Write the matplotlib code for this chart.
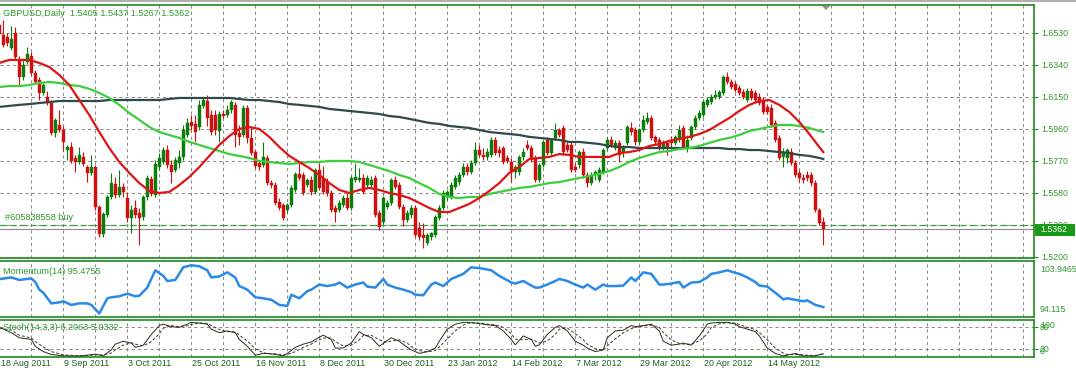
import matplotlib
matplotlib.use("Agg")
import matplotlib.pyplot as plt
from matplotlib.patches import Polygon, Rectangle
import numpy as np

W, H, DPI = 1076, 371, 100

# ---------------- data ----------------
date_labels = ["18 Aug 2011", "9 Sep 2011", "3 Oct 2011", "25 Oct 2011", "16 Nov 2011",
               "8 Dec 2011", "30 Dec 2011", "23 Jan 2012", "14 Feb 2012", "7 Mar 2012",
               "29 Mar 2012", "20 Apr 2012", "14 May 2012"]
price_ticks = [1.6530, 1.6340, 1.6150, 1.5960, 1.5770, 1.5580, 1.5390, 1.5200]

opens = [1.6576, 1.6516, 1.6504, 1.6439, 1.6528, 1.6368, 1.6267, 1.6356, 1.6391, 1.6291,
         1.6249, 1.6172, 1.6148, 1.6112, 1.5934, 1.5982, 1.5952, 1.5833, 1.5851, 1.5786,
         1.5762, 1.5792, 1.5732, 1.5697, 1.5732, 1.5495, 1.5334, 1.5447, 1.5554, 1.5631,
         1.5566, 1.5614, 1.5548, 1.5429, 1.5489, 1.5459, 1.5435, 1.5554, 1.5661, 1.5566,
         1.5732, 1.5762, 1.5833, 1.5744, 1.5714, 1.5756, 1.5792, 1.5922, 1.6000, 1.5988,
         1.5970, 1.6095, 1.6124, 1.6041, 1.6041, 1.5946, 1.6047, 1.6041, 1.6071, 1.6101,
         1.5934, 1.5922, 1.6083, 1.5905, 1.5821, 1.5756, 1.5744, 1.5786, 1.5637, 1.5625,
         1.5525, 1.5507, 1.5477, 1.5507, 1.5596, 1.5691, 1.5685, 1.5625, 1.5655, 1.5584,
         1.5714, 1.5667, 1.5643, 1.5578, 1.5489, 1.5477, 1.5507, 1.5548, 1.5489, 1.5655,
         1.5655, 1.5667, 1.5625, 1.5625, 1.5667, 1.5459, 1.5406, 1.5495, 1.5519, 1.5655,
         1.5625, 1.5495, 1.5418, 1.5447, 1.5489, 1.5370, 1.5329, 1.5281, 1.5317, 1.5329,
         1.5429, 1.5489, 1.5554, 1.5554, 1.5614, 1.5643, 1.5685, 1.5732, 1.5703, 1.5756,
         1.5833, 1.5804, 1.5792, 1.5804, 1.5893, 1.5833, 1.5845, 1.5786, 1.5762, 1.5703,
         1.5703, 1.5792, 1.5863, 1.5845, 1.5786, 1.5655, 1.5744, 1.5893, 1.5815, 1.5905,
         1.5952, 1.5964, 1.5863, 1.5863, 1.5732, 1.5744, 1.5821, 1.5685, 1.5637, 1.5685,
         1.5655, 1.5703, 1.5845, 1.5893, 1.5845, 1.5875, 1.5815, 1.5875, 1.5964, 1.5952,
         1.5881, 1.5952, 1.6000, 1.6023, 1.5911, 1.5893, 1.5851, 1.5875, 1.5893, 1.5875,
         1.5893, 1.5964, 1.5851, 1.5905, 1.5970, 1.6023, 1.6041, 1.6101, 1.6118, 1.6148,
         1.6148, 1.6172, 1.6267, 1.6237, 1.6225, 1.6201, 1.6178, 1.6130, 1.6184, 1.6172,
         1.6148, 1.6130, 1.6089, 1.6083, 1.5994, 1.5905, 1.5792, 1.5786, 1.5821, 1.5756,
         1.5697, 1.5667, 1.5685, 1.5685, 1.5637, 1.5477, 1.5405]
highs = [1.6653, 1.6605, 1.6528, 1.6570, 1.6564, 1.6391, 1.6368, 1.6445, 1.6415, 1.6308,
         1.6267, 1.6231, 1.6184, 1.6130, 1.6023, 1.6071, 1.5976, 1.5863, 1.5881, 1.5804,
         1.5851, 1.5821, 1.5744, 1.5804, 1.5744, 1.5507, 1.5465, 1.5566, 1.5697, 1.5673,
         1.5714, 1.5637, 1.5584, 1.5507, 1.5536, 1.5489, 1.5566, 1.5685, 1.5679, 1.5774,
         1.5815, 1.5851, 1.5863, 1.5774, 1.5792, 1.5833, 1.5982, 1.6023, 1.6041, 1.6041,
         1.6130, 1.6148, 1.6160, 1.6071, 1.6071, 1.6065, 1.6071, 1.6101, 1.6130, 1.6118,
         1.5982, 1.6101, 1.6101, 1.5970, 1.5833, 1.5774, 1.5881, 1.5804, 1.5655, 1.5643,
         1.5548, 1.5519, 1.5519, 1.5625, 1.5703, 1.5762, 1.5703, 1.5667, 1.5679, 1.5726,
         1.5756, 1.5738, 1.5667, 1.5596, 1.5507, 1.5536, 1.5566, 1.5578, 1.5679, 1.5756,
         1.5726, 1.5691, 1.5685, 1.5679, 1.5685, 1.5477, 1.5560, 1.5536, 1.5667, 1.5679,
         1.5643, 1.5513, 1.5477, 1.5507, 1.5507, 1.5406, 1.5400, 1.5340, 1.5346, 1.5447,
         1.5507, 1.5596, 1.5596, 1.5643, 1.5685, 1.5703, 1.5756, 1.5756, 1.5774, 1.5881,
         1.5863, 1.5845, 1.5845, 1.5911, 1.5911, 1.5857, 1.5857, 1.5804, 1.5786, 1.5744,
         1.5804, 1.5845, 1.5893, 1.5863, 1.5804, 1.5756, 1.5893, 1.5911, 1.5905, 1.5994,
         1.5964, 1.5982, 1.5881, 1.5881, 1.5756, 1.5833, 1.5845, 1.5703, 1.5703, 1.5714,
         1.5732, 1.5845, 1.5911, 1.5916, 1.5893, 1.5893, 1.5863, 1.5982, 1.6000, 1.5970,
         1.5964, 1.6041, 1.6059, 1.6041, 1.5922, 1.5911, 1.5893, 1.5893, 1.5916, 1.5922,
         1.5982, 1.5982, 1.5922, 1.5982, 1.6041, 1.6071, 1.6130, 1.6148, 1.6166, 1.6190,
         1.6190, 1.6279, 1.6296, 1.6255, 1.6243, 1.6219, 1.6196, 1.6201, 1.6201, 1.6190,
         1.6172, 1.6148, 1.6106, 1.6106, 1.6012, 1.5922, 1.5845, 1.5845, 1.5845, 1.5774,
         1.5714, 1.5691, 1.5708, 1.5703, 1.5655, 1.5489, 1.5437]
lows = [1.6498, 1.6445, 1.6451, 1.6427, 1.6368, 1.6219, 1.6249, 1.6344, 1.6279, 1.6225,
        1.6130, 1.6160, 1.6101, 1.5922, 1.5911, 1.5940, 1.5827, 1.5774, 1.5756, 1.5703,
        1.5750, 1.5738, 1.5643, 1.5685, 1.5477, 1.5317, 1.5317, 1.5435, 1.5542, 1.5548,
        1.5554, 1.5554, 1.5406, 1.5340, 1.5429, 1.5269, 1.5418, 1.5536, 1.5560, 1.5554,
        1.5714, 1.5750, 1.5726, 1.5637, 1.5703, 1.5726, 1.5774, 1.5911, 1.5952, 1.5881,
        1.5952, 1.6083, 1.5976, 1.5922, 1.5922, 1.5881, 1.6023, 1.6029, 1.6053, 1.5851,
        1.5863, 1.5911, 1.5875, 1.5804, 1.5726, 1.5714, 1.5732, 1.5625, 1.5608, 1.5507,
        1.5477, 1.5418, 1.5459, 1.5495, 1.5584, 1.5655, 1.5566, 1.5614, 1.5566, 1.5572,
        1.5596, 1.5572, 1.5560, 1.5465, 1.5406, 1.5465, 1.5495, 1.5477, 1.5477, 1.5643,
        1.5643, 1.5572, 1.5608, 1.5608, 1.5435, 1.5358, 1.5394, 1.5483, 1.5507, 1.5602,
        1.5483, 1.5382, 1.5406, 1.5429, 1.5317, 1.5299, 1.5251, 1.5269, 1.5299, 1.5317,
        1.5418, 1.5477, 1.5536, 1.5542, 1.5602, 1.5625, 1.5673, 1.5685, 1.5691, 1.5744,
        1.5792, 1.5774, 1.5774, 1.5792, 1.5804, 1.5792, 1.5750, 1.5756, 1.5643, 1.5667,
        1.5685, 1.5774, 1.5833, 1.5762, 1.5643, 1.5643, 1.5732, 1.5804, 1.5804, 1.5893,
        1.5911, 1.5804, 1.5821, 1.5703, 1.5703, 1.5726, 1.5667, 1.5614, 1.5625, 1.5655,
        1.5643, 1.5691, 1.5833, 1.5851, 1.5833, 1.5762, 1.5792, 1.5863, 1.5922, 1.5863,
        1.5869, 1.5940, 1.5988, 1.5893, 1.5869, 1.5833, 1.5833, 1.5804, 1.5845, 1.5863,
        1.5881, 1.5845, 1.5821, 1.5893, 1.5958, 1.6012, 1.6029, 1.6089, 1.6106, 1.6136,
        1.6136, 1.6160, 1.6225, 1.6196, 1.6178, 1.6160, 1.6136, 1.6118, 1.6130, 1.6118,
        1.6101, 1.6047, 1.6047, 1.5970, 1.5881, 1.5774, 1.5732, 1.5756, 1.5744, 1.5673,
        1.5643, 1.5637, 1.5649, 1.5619, 1.5465, 1.5388, 1.5267]
closes = [1.6522, 1.6457, 1.6469, 1.6492, 1.6386, 1.6267, 1.6338, 1.6403, 1.6291, 1.6237,
          1.6172, 1.6219, 1.6112, 1.5934, 1.6012, 1.5952, 1.5881, 1.5851, 1.5768, 1.5762,
          1.5804, 1.5750, 1.5697, 1.5732, 1.5495, 1.5334, 1.5453, 1.5554, 1.5637, 1.5566,
          1.5614, 1.5584, 1.5429, 1.5477, 1.5447, 1.5429, 1.5554, 1.5667, 1.5572, 1.5750,
          1.5786, 1.5833, 1.5744, 1.5703, 1.5774, 1.5792, 1.5952, 1.5994, 1.5976, 1.5940,
          1.6101, 1.6130, 1.6023, 1.5940, 1.5952, 1.6047, 1.6035, 1.6071, 1.6118, 1.5922,
          1.5911, 1.6083, 1.5905, 1.5815, 1.5738, 1.5732, 1.5792, 1.5637, 1.5625, 1.5519,
          1.5489, 1.5429, 1.5507, 1.5608, 1.5691, 1.5667, 1.5578, 1.5655, 1.5584, 1.5714,
          1.5608, 1.5584, 1.5578, 1.5477, 1.5465, 1.5519, 1.5548, 1.5489, 1.5667, 1.5673,
          1.5667, 1.5584, 1.5667, 1.5655, 1.5447, 1.5376, 1.5548, 1.5519, 1.5655, 1.5614,
          1.5495, 1.5418, 1.5459, 1.5489, 1.5329, 1.5317, 1.5311, 1.5329, 1.5340, 1.5435,
          1.5489, 1.5578, 1.5584, 1.5625, 1.5667, 1.5685, 1.5732, 1.5703, 1.5756, 1.5833,
          1.5804, 1.5792, 1.5821, 1.5893, 1.5815, 1.5815, 1.5762, 1.5768, 1.5703, 1.5732,
          1.5792, 1.5821, 1.5845, 1.5774, 1.5655, 1.5744, 1.5881, 1.5815, 1.5893, 1.5952,
          1.5922, 1.5821, 1.5833, 1.5714, 1.5714, 1.5821, 1.5685, 1.5637, 1.5685, 1.5703,
          1.5714, 1.5833, 1.5893, 1.5863, 1.5875, 1.5804, 1.5845, 1.5970, 1.5940, 1.5881,
          1.5952, 1.6012, 1.6023, 1.5905, 1.5881, 1.5851, 1.5875, 1.5851, 1.5875, 1.5911,
          1.5952, 1.5851, 1.5893, 1.5970, 1.6023, 1.6053, 1.6118, 1.6130, 1.6148, 1.6160,
          1.6178, 1.6267, 1.6237, 1.6207, 1.6190, 1.6172, 1.6148, 1.6184, 1.6142, 1.6130,
          1.6112, 1.6059, 1.6059, 1.5982, 1.5893, 1.5786, 1.5821, 1.5833, 1.5756, 1.5685,
          1.5667, 1.5655, 1.5667, 1.5637, 1.5477, 1.5400, 1.5362]

# moving averages read every 2.5 bars (last value at the final bar)
ma_fast = [1.6350, 1.6368, 1.6368, 1.6368, 1.6350, 1.6326, 1.6279, 1.6219, 1.6130, 1.6041,
           1.5940, 1.5845, 1.5762, 1.5697, 1.5637, 1.5590, 1.5578, 1.5584, 1.5625, 1.5673,
           1.5732, 1.5798, 1.5863, 1.5916, 1.5958, 1.5970, 1.5958, 1.5911, 1.5851, 1.5798,
           1.5762, 1.5726, 1.5685, 1.5637, 1.5596, 1.5578, 1.5596, 1.5608, 1.5596, 1.5578,
           1.5566, 1.5548, 1.5519, 1.5489, 1.5465, 1.5465, 1.5489, 1.5513, 1.5548, 1.5590,
           1.5637, 1.5697, 1.5732, 1.5780, 1.5786, 1.5792, 1.5809, 1.5804, 1.5792, 1.5792,
           1.5792, 1.5792, 1.5815, 1.5821, 1.5833, 1.5857, 1.5869, 1.5887, 1.5899, 1.5911,
           1.5928, 1.5952, 1.5988, 1.6023, 1.6065, 1.6101, 1.6124, 1.6130, 1.6101, 1.6059,
           1.6000, 1.5928, 1.5851, 1.5821]
ma_mid = [1.6207, 1.6213, 1.6213, 1.6219, 1.6231, 1.6237, 1.6231, 1.6219, 1.6213, 1.6196,
          1.6172, 1.6142, 1.6101, 1.6053, 1.6012, 1.5970, 1.5940, 1.5922, 1.5905, 1.5881,
          1.5863, 1.5845, 1.5827, 1.5809, 1.5798, 1.5786, 1.5768, 1.5762, 1.5756, 1.5750,
          1.5756, 1.5762, 1.5762, 1.5768, 1.5768, 1.5768, 1.5762, 1.5744, 1.5726, 1.5708,
          1.5685, 1.5667, 1.5637, 1.5608, 1.5572, 1.5554, 1.5548, 1.5554, 1.5554, 1.5572,
          1.5584, 1.5596, 1.5608, 1.5614, 1.5625, 1.5637, 1.5643, 1.5655, 1.5667, 1.5679,
          1.5691, 1.5708, 1.5732, 1.5762, 1.5786, 1.5804, 1.5821, 1.5827, 1.5839, 1.5845,
          1.5857, 1.5875, 1.5893, 1.5905, 1.5922, 1.5946, 1.5958, 1.5970, 1.5982, 1.5982,
          1.5976, 1.5964, 1.5946, 1.5940]
ma_slow = [1.6089, 1.6095, 1.6101, 1.6106, 1.6112, 1.6118, 1.6124, 1.6124, 1.6124, 1.6124,
           1.6124, 1.6130, 1.6130, 1.6130, 1.6130, 1.6130, 1.6130, 1.6136, 1.6142, 1.6142,
           1.6142, 1.6142, 1.6142, 1.6142, 1.6136, 1.6130, 1.6130, 1.6124, 1.6118, 1.6106,
           1.6101, 1.6095, 1.6089, 1.6077, 1.6071, 1.6065, 1.6059, 1.6053, 1.6047, 1.6035,
           1.6029, 1.6018, 1.6006, 1.5994, 1.5988, 1.5976, 1.5970, 1.5964, 1.5952, 1.5940,
           1.5934, 1.5928, 1.5922, 1.5911, 1.5905, 1.5899, 1.5893, 1.5881, 1.5881, 1.5875,
           1.5869, 1.5857, 1.5851, 1.5851, 1.5845, 1.5845, 1.5845, 1.5845, 1.5845, 1.5845,
           1.5845, 1.5845, 1.5845, 1.5839, 1.5839, 1.5833, 1.5833, 1.5827, 1.5821, 1.5815,
           1.5804, 1.5798, 1.5786, 1.5780]

mom_bar = [0, 3, 5, 8, 9, 10, 11, 13, 15, 16, 18, 20, 22, 23, 25, 27, 28, 30, 32, 34, 35, 37,
           39, 41, 42, 44, 46, 48, 50, 52, 53, 55, 57, 59, 60, 62, 64, 66, 68, 70, 72, 73, 75,
           77, 78, 80, 82, 84, 85, 87, 89, 91, 92, 94, 96, 97, 99, 101, 103, 104, 106, 108,
           109, 111, 113, 116, 118, 121, 123, 125, 128, 129, 131, 133, 134, 135, 137, 139,
           140, 142, 144, 146, 147, 149, 151, 152, 154, 156, 158, 159, 161, 163, 165, 166,
           168, 170, 171, 173, 175, 177, 178, 180, 182, 184, 185, 187, 189, 190, 192, 194,
           196, 197, 199, 201, 202, 204, 206]
mom_val = [100.96, 101.3, 100.8, 101.1, 100.4, 98.9, 98.3, 96.2, 96.4, 96.6, 95.9, 96.2, 96.2,
           95.9, 94.2, 97.2, 97.4, 97.6, 98.1, 97.6, 97.7, 99.3, 102.7, 101.6, 100.6, 100.8,
           103.3, 103.7, 103.5, 102.7, 101.3, 101.5, 102.3, 101.3, 99.6, 98.9, 97.4, 97.2,
           96.9, 95.9, 95.7, 97.9, 97.2, 98.6, 98.9, 99.9, 99.6, 99.9, 100.3, 99.3, 99.9,
           100.3, 99.5, 99.3, 101.0, 99.9, 99.3, 98.9, 98.4, 97.9, 97.8, 99.9, 100.3, 99.6,
           101.0, 102.0, 103.3, 103.0, 102.7, 101.6, 100.3, 100.1, 100.6, 99.7, 99.3, 99.3,
           99.9, 100.6, 101.0, 100.6, 99.9, 99.3, 99.9, 98.9, 99.9, 99.6, 99.6, 99.7, 101.3,
           100.6, 102.3, 102.0, 99.9, 99.9, 100.1, 100.4, 99.3, 100.3, 100.4, 101.3, 102.0,
           102.3, 102.7, 102.2, 102.0, 101.3, 100.4, 99.7, 99.5, 98.3, 97.0, 97.2, 96.9, 96.6,
           96.8, 95.9, 95.48]

stoch_bar = [0, 3, 5, 8, 9, 11, 13, 16, 20, 22, 24, 26, 28, 29, 31, 33, 34, 36, 38, 40, 41,
             43, 45, 47, 48, 50, 52, 53, 55, 57, 59, 60, 62, 64, 66, 67, 69, 71, 72, 74, 76,
             78, 79, 81, 83, 84, 86, 88, 90, 91, 93, 95, 97, 98, 100, 102, 103, 105, 107, 109,
             110, 112, 114, 116, 117, 119, 121, 122, 124, 126, 128, 129, 131, 133, 134, 135,
             137, 139, 140, 142, 144, 146, 147, 149, 151, 152, 154, 156, 158, 159, 161, 163,
             165, 166, 168, 170, 171, 173, 175, 177, 178, 180, 182, 184, 185, 187, 189, 190,
             192, 194, 196, 197, 199, 201, 202, 204, 206]
stoch_main = [80, 65, 51, 46, 27, 12, 4, 0, 0, 2, 5, 0, 17, 33, 41, 36, 24, 30, 60, 85, 89,
              82, 80, 89, 94, 92, 89, 75, 65, 70, 65, 46, 27, 2, 7, 7, 4, 0, 7, 24, 33, 39, 46,
              58, 46, 22, 22, 36, 68, 60, 51, 27, 43, 51, 41, 24, 17, 7, 12, 22, 41, 75, 89,
              94, 94, 92, 89, 87, 85, 70, 46, 31, 56, 46, 27, 31, 60, 80, 85, 70, 41, 30, 22,
              12, 17, 51, 70, 72, 85, 82, 85, 89, 70, 41, 30, 33, 36, 30, 56, 89, 92, 94, 94,
              89, 82, 75, 68, 56, 22, 7, 0, 2, 7, 0, 0, 0, 6.2]
stoch_signal = [78, 72, 58, 50, 40, 25, 12, 3, 0, 1, 3, 3, 8, 17, 30, 37, 33, 28, 40, 62, 78,
                85, 82, 84, 88, 92, 91, 85, 74, 68, 67, 58, 42, 20, 9, 6, 6, 3, 4, 12, 24, 33,
                40, 50, 50, 40, 28, 30, 45, 57, 58, 45, 38, 42, 45, 36, 26, 15, 11, 15, 25, 48,
                70, 86, 92, 93, 91, 89, 87, 80, 62, 47, 45, 47, 42, 36, 42, 60, 75, 78, 62, 45,
                33, 20, 16, 28, 48, 65, 76, 80, 84, 86, 80, 65, 45, 35, 33, 33, 42, 62, 80, 90,
                93, 92, 88, 80, 74, 66, 45, 22, 8, 4, 4, 3, 2, 1, 5.0]

buy_price = 1.5388
last_price = 1.5362

# ---------------- helpers ----------------
GREEN_TXT = "#2f9a2f"
BORDER = "#1f8a1f"
GRIDC = "#8a8a8a"
FONT = "Liberation Sans"

n = min(len(opens), len(highs), len(lows), len(closes))
o = np.array(opens[:n]); h = np.array(highs[:n]); l = np.array(lows[:n]); c = np.array(closes[:n])
bars = np.arange(n)

def rect(x0, y0, x1, y1):
    return [x0 / W, 1 - y1 / H, (x1 - x0) / W, (y1 - y0) / H]

def fx(x):
    return x / W

def fy(y):
    return 1 - y / H

fig = plt.figure(figsize=(W / DPI, H / DPI), dpi=DPI)
fig.patch.set_facecolor("white")

XL = (0.175, 258.675)
ax = fig.add_axes(rect(0, 5, 1034, 258))
axm = fig.add_axes(rect(0, 261, 1034, 317))
axs = fig.add_axes(rect(0, 320, 1034, 357))

for a in (ax, axm, axs):
    a.set_xlim(*XL)
    a.set_facecolor("white")
    for s in ("top", "bottom", "right"):
        a.spines[s].set_color(BORDER)
        a.spines[s].set_linewidth(1.2)
    a.spines["left"].set_visible(False)
    a.set_xticks([])
    a.yaxis.tick_right()
    a.tick_params(axis="y", colors=BORDER, labelcolor=GREEN_TXT, length=3, width=0.8,
                  direction="out", pad=2, labelsize=6.3)
    for lab in a.get_yticklabels():
        lab.set_fontfamily(FONT)
    for gx in range(8, 259, 8):
        a.axvline(gx, color=GRIDC, lw=0.75, ls=(0, (3, 3)), zorder=0)

# ---- main price panel ----
ax.set_ylim(1.5192, 1.6694)
ax.set_yticks(price_ticks)
ax.set_yticklabels([f"{p:.4f}" for p in price_ticks], fontfamily=FONT, fontsize=6.3,
                   color=GREEN_TXT)
for p in price_ticks:
    ax.axhline(p, color=GRIDC, lw=0.75, ls=(0, (3, 3)), zorder=0)

up = c >= o
col = np.where(up, "#0a7d0a", "#d01010")
ax.vlines(bars, l, h, colors=col, lw=0.8, zorder=3)
body_h = np.maximum(np.abs(c - o), 0.00025)
ax.bar(bars, body_h, bottom=np.minimum(o, c), width=0.78, color=col, edgecolor=col,
       linewidth=0.3, zorder=4)

ma_x = np.append(np.arange(len(ma_fast) - 1) * 2.5, n - 1)
ax.plot(ma_x[:len(ma_slow)], ma_slow, color="#2f4a4a", lw=1.6, zorder=5)
ax.plot(ma_x[:len(ma_mid)], ma_mid, color="#3ccf3c", lw=1.6, zorder=5)
ax.plot(ma_x[:len(ma_fast)], ma_fast, color="#dd1515", lw=1.6, zorder=6)

ax.axhline(buy_price, color="#3aa03a", lw=0.9, ls=(0, (5, 3)), zorder=2)
ax.axhline(last_price, color="#8c8c8c", lw=0.8, zorder=2)

# ---- momentum panel ----
axm.set_ylim(93.52, 104.53)
axm.set_yticks([])
axm.plot(mom_bar, mom_val, color="#2a8ae8", lw=1.8, zorder=3)

# ---- stochastic panel ----
axs.set_ylim(-3.1, 100.6)
axs.set_yticks([80, 20])
axs.set_yticklabels([])
for lv in (80, 20):
    axs.axhline(lv, color=GRIDC, lw=0.75, ls=(0, (3, 3)), zorder=0)
axs.plot(stoch_bar, stoch_signal, color="#3a3a2a", lw=0.7, ls=(0, (3, 2)), zorder=3)
axs.plot(stoch_bar, stoch_main, color="#2b2b1a", lw=0.7, zorder=4)

# ---------------- texts ----------------
fig.text(fx(3), fy(13), "GBPUSD,Daily  1.5405 1.5437 1.5267 1.5362", color=GREEN_TXT,
         fontsize=6.6, family=FONT, va="center", ha="left")
fig.text(fx(5), fy(217), "#605838558 buy", color=GREEN_TXT, fontsize=6.6, family=FONT,
         va="center", ha="left")
fig.text(fx(3), fy(271), "Momentum(14) 95.4755", color=GREEN_TXT, fontsize=6.6, family=FONT,
         va="center", ha="left")
fig.text(fx(3), fy(328), "Stoch(14,3,3) 6.2063 5.0332", color=GREEN_TXT, fontsize=6.6,
         family=FONT, va="center", ha="left")

fig.text(fx(1040), fy(269), "103.9465", color=GREEN_TXT, fontsize=6.3, family=FONT,
         va="center", ha="left")
fig.text(fx(1040), fy(310), "94.115", color=GREEN_TXT, fontsize=6.3, family=FONT,
         va="center", ha="left")
for t, yy in (("100", 325), ("80", 327), ("20", 349), ("0", 351)):
    fig.text(fx(1040), fy(yy), t, color=GREEN_TXT, fontsize=6.3, family=FONT,
             va="center", ha="left")

# current price box
fig.patches.append(Rectangle((fx(1035), fy(236)), fx(40), 12 / H, transform=fig.transFigure,
                             facecolor="#189a18", edgecolor="none", zorder=10))
fig.text(fx(1040), fy(230), f"{last_price:.4f}", color="white", fontsize=6.3, family=FONT,
         va="center", ha="left", zorder=11)

# date labels
for k, lab in enumerate(date_labels):
    xb = k * 16
    xpix = (xb - XL[0]) / (XL[1] - XL[0]) * 1034
    fig.text(fx(max(xpix, 0) + 1), fy(364), lab, color="#1e5e1e", fontsize=6.4, family=FONT,
             va="center", ha="left")

# top strip and shift marker
fig.add_artist(plt.Line2D([0, 1], [fy(0.5), fy(0.5)], transform=fig.transFigure,
                          color="#a0a0a0", lw=1.2))
fig.patches.append(Polygon([[fx(822), fy(6)], [fx(830), fy(6)], [fx(826), fy(10)]],
                           closed=True, transform=fig.transFigure, facecolor="#909090",
                           edgecolor="none", zorder=10))

fig.savefig("out.png", dpi=DPI, facecolor="white")
